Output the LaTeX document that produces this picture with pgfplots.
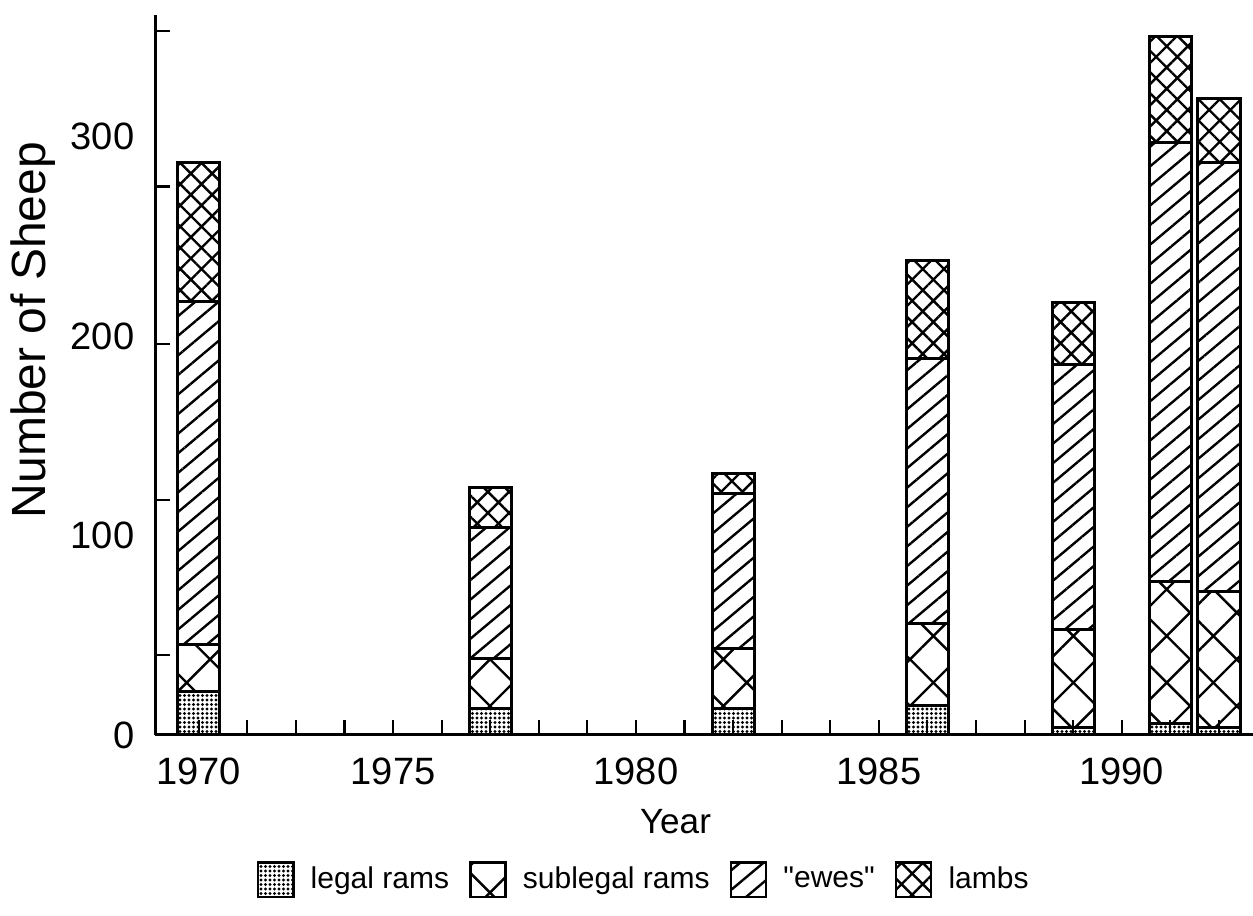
\documentclass[border=0pt]{standalone}
\usepackage{pgfplots}
\pgfplotsset{compat=1.18}
\usetikzlibrary{patterns.meta}
\usepackage{fontspec}
\setmainfont{Liberation Sans}
\newfontfamily\plainquote{Liberation Sans}[Ligatures=TeXOff]

\tikzset{
  legalpat/.style={pattern={Dots[distance=1.5pt,radius=0.55pt]}},
  subpat/.style={pattern={Hatch[angle=45,distance=11pt,line width=0.8pt]}},
  ewepat/.style={pattern={Lines[angle=40,distance=5pt,line width=0.8pt]}},
  lambpat/.style={pattern={Hatch[angle=45,distance=5pt,line width=0.8pt]}},
}

\begin{document}
\begin{tikzpicture}
\useasboundingbox (-51.67pt,-60.33pt) rectangle (366pt,245pt);
\begin{axis}[
  scale only axis,
  width=366pt, height=240pt,
  at={(0,0)}, anchor=south west,
  xmin=1970.1, xmax=1992.7,
  ymin=0, ymax=361,
  axis lines=left,
  axis line style={-, line width=1pt},
  tick align=inside,
  major tick length=5pt,
  tick style={line width=0.7pt, black},
  ybar stacked,
  bar width=0.87,
  xtick={1971,...,1992},
  xticklabels={1970,,,,1975,,,,,1980,,,,,1985,,,,,1990,,},
  ytick={40,118,196,275,353},
  yticklabels={,,,,},
  extra y ticks={0,100,200,300},
  extra y tick labels={0,100,200,300},
  extra y tick style={tick style={draw=none}},
  /pgf/number format/assume math mode=true,
  xticklabel style={font=\fontsize{12.7}{15}\selectfont, anchor=north, inner sep=0pt, yshift=-7.3pt},
  yticklabel style={font=\fontsize{12.7}{15}\selectfont, anchor=east, inner sep=0pt, xshift=-6.7pt},
  xlabel={Year},
  xlabel style={font=\fontsize{11.7}{14}\selectfont, at={(axis description cs:0.474,0)}, anchor=north, inner sep=0pt, yshift=-24.7pt},
  ylabel={Number of Sheep},
  ylabel style={font=\fontsize{16}{19}\selectfont, at={(axis description cs:-0.111,0.5625)}, anchor=center, inner sep=0pt},
  legend image code/.code={\draw[#1, draw=black, line width=0.8pt] (0pt,-5.8pt) rectangle (11.7pt,5.8pt); \path (15pt,0pt);},
  legend style={draw=none, legend columns=-1, at={(axis description cs:0.447,0)}, anchor=center, yshift=-48.3pt,
    font=\fontsize{10}{12}\selectfont,
    /tikz/every even column/.append style={column sep=4.7pt}},
]
\addplot[draw=black, line width=1pt, legalpat] coordinates {
  (1971,21.6) (1977,13.5) (1982,13.5) (1986,15) (1989,4) (1991,6) (1992,4)};
\addlegendentry{legal rams}
\addplot[draw=black, line width=1pt, subpat] coordinates {
  (1971,24) (1977,25) (1982,30) (1986,41) (1989,49) (1991,71) (1992,68)};
\addlegendentry{sublegal rams}
\addplot[draw=black, line width=1pt, ewepat] coordinates {
  (1971,171.5) (1977,65.7) (1982,77.7) (1986,133) (1989,133) (1991,220) (1992,215)};
\addlegendentry{{\plainquote\symbol{34}ewes\symbol{34}}}
\addplot[draw=black, line width=1pt, lambpat] coordinates {
  (1971,70) (1977,20) (1982,10) (1986,49) (1989,31) (1991,53) (1992,32)};
\addlegendentry{lambs}
\end{axis}
\end{tikzpicture}
\end{document}
